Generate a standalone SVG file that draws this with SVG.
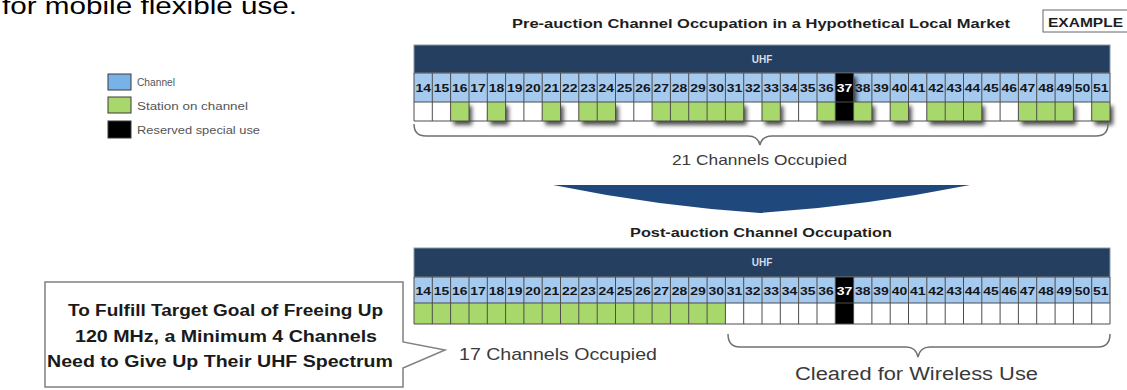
<svg xmlns="http://www.w3.org/2000/svg" width="1127" height="390" viewBox="0 0 1127 390">
  <style>
    .sans { font-family: "Liberation Sans", Arial, sans-serif; }
    .navy { fill: #243f60; stroke: #8a98a8; stroke-width: 1; }
    .numrow { fill: #a6caee; }
    .occ { fill: #ffffff; }
    .on { fill: #a8d86c; }
    .rsv { fill: #000000; }
    .grid { fill: none; stroke: #4d4d4d; stroke-width: 1; }
    .num { font-family: "Liberation Sans", Arial, sans-serif; font-weight: bold; font-size: 11.5px; fill: #14161c; text-anchor: middle; }
    .num.w { fill: #ffffff; }
    .uhf { font-family: "Liberation Sans", Arial, sans-serif; font-weight: bold; font-size: 10px; fill: #d7dde6; text-anchor: middle; }
    .title { font-family: "Liberation Sans", Arial, sans-serif; font-weight: bold; font-size: 12.5px; fill: #1e1e1e; }
    .legtxt { font-family: "Liberation Sans", Arial, sans-serif; font-size: 10px; fill: #555555; }
    .count { font-family: "Liberation Sans", Arial, sans-serif; fill: #3a3a3a; }
    .brace { fill: none; stroke: #707070; stroke-width: 1.5; }
    .callout { fill: #ffffff; stroke: #808080; stroke-width: 1.5; }
    .calltxt { font-family: "Liberation Sans", Arial, sans-serif; font-weight: bold; font-size: 16px; fill: #1a1a1a; text-anchor: middle; }
  </style>
  <defs>
    <filter id="cellShadow" x="-30%" y="-30%" width="180%" height="190%">
      <feDropShadow dx="3" dy="4" stdDeviation="2" flood-color="#000000" flood-opacity="0.7"/>
    </filter>
  </defs>

  <rect x="0" y="0" width="1127" height="390" fill="#ffffff"/>

  <!-- slide body text, running off the top edge -->
  <text class="sans" x="2" y="13.5" font-size="23" fill="#000000" textLength="295" lengthAdjust="spacingAndGlyphs">for mobile flexible use.</text>

  <!-- legend -->
  <g id="legend">
    <rect x="108" y="74" width="23" height="16" fill="#78b2e6" stroke="#3a3a3a" stroke-width="1"/>
    <text class="legtxt" x="137" y="86" textLength="38" lengthAdjust="spacingAndGlyphs">Channel</text>
    <rect x="108" y="97" width="23" height="16" fill="#a8d86c" stroke="#3a3a3a" stroke-width="1"/>
    <text class="legtxt" x="137" y="110" textLength="111" lengthAdjust="spacingAndGlyphs">Station on channel</text>
    <rect x="108" y="121" width="23" height="17" fill="#000000" stroke="#3a3a3a" stroke-width="1"/>
    <text class="legtxt" x="137" y="134" textLength="123" lengthAdjust="spacingAndGlyphs">Reserved special use</text>
  </g>

  <!-- EXAMPLE tag -->
  <g id="example-tag">
    <rect x="1043" y="10" width="90" height="22" fill="#ffffff" stroke="#666666" stroke-width="1"/>
    <text class="title" x="1048" y="27" font-size="13.5" textLength="75" lengthAdjust="spacingAndGlyphs">EXAMPLE</text>
  </g>

  <!-- pre-auction band -->
  <g id="pre-auction">
    <text class="title" x="512" y="28" textLength="498" lengthAdjust="spacingAndGlyphs">Pre-auction Channel Occupation in a Hypothetical Local Market</text>
    <rect class="navy" x="414" y="45" width="696" height="28"/>
    <text class="uhf" x="762" y="63">UHF</text>
    <rect class="numrow" x="414" y="73" width="696" height="29"/>
    <rect class="occ" x="414" y="102" width="696" height="19"/>
    <g filter="url(#cellShadow)">
      <rect class="on" x="450.6" y="102" width="18.3" height="19"/>
      <rect class="on" x="487.3" y="102" width="18.3" height="19"/>
      <rect class="on" x="542.2" y="102" width="18.3" height="19"/>
      <rect class="on" x="578.8" y="102" width="36.6" height="19"/>
      <rect class="on" x="652.1" y="102" width="91.6" height="19"/>
      <rect class="on" x="762.0" y="102" width="18.3" height="19"/>
      <rect class="on" x="817.0" y="102" width="18.3" height="19"/>
      <rect class="rsv" x="835.3" y="73" width="18.3" height="48"/>
      <rect class="on" x="853.6" y="102" width="18.3" height="19"/>
      <rect class="on" x="890.2" y="102" width="18.3" height="19"/>
      <rect class="on" x="926.8" y="102" width="54.9" height="19"/>
      <rect class="on" x="1018.4" y="102" width="54.9" height="19"/>
      <rect class="on" x="1091.7" y="102" width="18.3" height="19"/>
    </g>
    <path class="grid" d="M414,73H1110M414,102H1110M414,121H1110
      M414,73V121M432.3,73V121M450.6,73V121M469,73V121M487.3,73V121M505.6,73V121M523.9,73V121M542.2,73V121M560.5,73V121M578.8,73V121
      M597.2,73V121M615.5,73V121M633.8,73V121M652.1,73V121M670.4,73V121M688.7,73V121M707.1,73V121M725.4,73V121M743.7,73V121M762,73V121
      M780.3,73V121M798.6,73V121M817,73V121M835.3,73V121M853.6,73V121M871.9,73V121M890.2,73V121M908.5,73V121M926.8,73V121M945.2,73V121
      M963.5,73V121M981.8,73V121M1000.1,73V121M1018.4,73V121M1036.7,73V121M1055.1,73V121M1073.4,73V121M1091.7,73V121M1110,73V121"/>
    <g>
      <text class="num" x="423.2" y="92" textLength="15.5" lengthAdjust="spacingAndGlyphs">14</text>
      <text class="num" x="441.5" y="92" textLength="15.5" lengthAdjust="spacingAndGlyphs">15</text>
      <text class="num" x="459.8" y="92" textLength="15.5" lengthAdjust="spacingAndGlyphs">16</text>
      <text class="num" x="478.1" y="92" textLength="15.5" lengthAdjust="spacingAndGlyphs">17</text>
      <text class="num" x="496.4" y="92" textLength="15.5" lengthAdjust="spacingAndGlyphs">18</text>
      <text class="num" x="514.7" y="92" textLength="15.5" lengthAdjust="spacingAndGlyphs">19</text>
      <text class="num" x="533.1" y="92" textLength="15.5" lengthAdjust="spacingAndGlyphs">20</text>
      <text class="num" x="551.4" y="92" textLength="15.5" lengthAdjust="spacingAndGlyphs">21</text>
      <text class="num" x="569.7" y="92" textLength="15.5" lengthAdjust="spacingAndGlyphs">22</text>
      <text class="num" x="588.0" y="92" textLength="15.5" lengthAdjust="spacingAndGlyphs">23</text>
      <text class="num" x="606.3" y="92" textLength="15.5" lengthAdjust="spacingAndGlyphs">24</text>
      <text class="num" x="624.6" y="92" textLength="15.5" lengthAdjust="spacingAndGlyphs">25</text>
      <text class="num" x="643.0" y="92" textLength="15.5" lengthAdjust="spacingAndGlyphs">26</text>
      <text class="num" x="661.3" y="92" textLength="15.5" lengthAdjust="spacingAndGlyphs">27</text>
      <text class="num" x="679.6" y="92" textLength="15.5" lengthAdjust="spacingAndGlyphs">28</text>
      <text class="num" x="697.9" y="92" textLength="15.5" lengthAdjust="spacingAndGlyphs">29</text>
      <text class="num" x="716.2" y="92" textLength="15.5" lengthAdjust="spacingAndGlyphs">30</text>
      <text class="num" x="734.5" y="92" textLength="15.5" lengthAdjust="spacingAndGlyphs">31</text>
      <text class="num" x="752.8" y="92" textLength="15.5" lengthAdjust="spacingAndGlyphs">32</text>
      <text class="num" x="771.2" y="92" textLength="15.5" lengthAdjust="spacingAndGlyphs">33</text>
      <text class="num" x="789.5" y="92" textLength="15.5" lengthAdjust="spacingAndGlyphs">34</text>
      <text class="num" x="807.8" y="92" textLength="15.5" lengthAdjust="spacingAndGlyphs">35</text>
      <text class="num" x="826.1" y="92" textLength="15.5" lengthAdjust="spacingAndGlyphs">36</text>
      <text class="num w" x="844.4" y="92" textLength="15.5" lengthAdjust="spacingAndGlyphs">37</text>
      <text class="num" x="862.7" y="92" textLength="15.5" lengthAdjust="spacingAndGlyphs">38</text>
      <text class="num" x="881.1" y="92" textLength="15.5" lengthAdjust="spacingAndGlyphs">39</text>
      <text class="num" x="899.4" y="92" textLength="15.5" lengthAdjust="spacingAndGlyphs">40</text>
      <text class="num" x="917.7" y="92" textLength="15.5" lengthAdjust="spacingAndGlyphs">41</text>
      <text class="num" x="936.0" y="92" textLength="15.5" lengthAdjust="spacingAndGlyphs">42</text>
      <text class="num" x="954.3" y="92" textLength="15.5" lengthAdjust="spacingAndGlyphs">43</text>
      <text class="num" x="972.6" y="92" textLength="15.5" lengthAdjust="spacingAndGlyphs">44</text>
      <text class="num" x="990.9" y="92" textLength="15.5" lengthAdjust="spacingAndGlyphs">45</text>
      <text class="num" x="1009.3" y="92" textLength="15.5" lengthAdjust="spacingAndGlyphs">46</text>
      <text class="num" x="1027.6" y="92" textLength="15.5" lengthAdjust="spacingAndGlyphs">47</text>
      <text class="num" x="1045.9" y="92" textLength="15.5" lengthAdjust="spacingAndGlyphs">48</text>
      <text class="num" x="1064.2" y="92" textLength="15.5" lengthAdjust="spacingAndGlyphs">49</text>
      <text class="num" x="1082.5" y="92" textLength="15.5" lengthAdjust="spacingAndGlyphs">50</text>
      <text class="num" x="1100.8" y="92" textLength="15.5" lengthAdjust="spacingAndGlyphs">51</text>
    </g>
    <text class="count" x="672" y="165" font-size="15" textLength="175" lengthAdjust="spacingAndGlyphs">21 Channels Occupied</text>
  </g>

  <!-- post-auction band -->
  <g id="post-auction">
    <text class="title" x="630" y="237" textLength="262" lengthAdjust="spacingAndGlyphs">Post-auction Channel Occupation</text>
    <rect class="navy" x="414" y="248" width="696" height="29"/>
    <text class="uhf" x="762" y="266">UHF</text>
    <rect class="numrow" x="414" y="277" width="696" height="26"/>
    <rect class="occ" x="414" y="303" width="696" height="21"/>
    <rect class="on" x="414" y="303" width="311.4" height="21"/>
    <rect class="rsv" x="835.3" y="277" width="18.3" height="47"/>
    <path class="grid" d="M414,277H1110M414,303H1110M414,324H1110
      M414,277V324M432.3,277V324M450.6,277V324M469,277V324M487.3,277V324M505.6,277V324M523.9,277V324M542.2,277V324M560.5,277V324M578.8,277V324
      M597.2,277V324M615.5,277V324M633.8,277V324M652.1,277V324M670.4,277V324M688.7,277V324M707.1,277V324M725.4,277V324M743.7,277V324M762,277V324
      M780.3,277V324M798.6,277V324M817,277V324M835.3,277V324M853.6,277V324M871.9,277V324M890.2,277V324M908.5,277V324M926.8,277V324M945.2,277V324
      M963.5,277V324M981.8,277V324M1000.1,277V324M1018.4,277V324M1036.7,277V324M1055.1,277V324M1073.4,277V324M1091.7,277V324M1110,277V324"/>
    <g>
      <text class="num" x="423.2" y="294.5" textLength="15.5" lengthAdjust="spacingAndGlyphs">14</text>
      <text class="num" x="441.5" y="294.5" textLength="15.5" lengthAdjust="spacingAndGlyphs">15</text>
      <text class="num" x="459.8" y="294.5" textLength="15.5" lengthAdjust="spacingAndGlyphs">16</text>
      <text class="num" x="478.1" y="294.5" textLength="15.5" lengthAdjust="spacingAndGlyphs">17</text>
      <text class="num" x="496.4" y="294.5" textLength="15.5" lengthAdjust="spacingAndGlyphs">18</text>
      <text class="num" x="514.7" y="294.5" textLength="15.5" lengthAdjust="spacingAndGlyphs">19</text>
      <text class="num" x="533.1" y="294.5" textLength="15.5" lengthAdjust="spacingAndGlyphs">20</text>
      <text class="num" x="551.4" y="294.5" textLength="15.5" lengthAdjust="spacingAndGlyphs">21</text>
      <text class="num" x="569.7" y="294.5" textLength="15.5" lengthAdjust="spacingAndGlyphs">22</text>
      <text class="num" x="588.0" y="294.5" textLength="15.5" lengthAdjust="spacingAndGlyphs">23</text>
      <text class="num" x="606.3" y="294.5" textLength="15.5" lengthAdjust="spacingAndGlyphs">24</text>
      <text class="num" x="624.6" y="294.5" textLength="15.5" lengthAdjust="spacingAndGlyphs">25</text>
      <text class="num" x="643.0" y="294.5" textLength="15.5" lengthAdjust="spacingAndGlyphs">26</text>
      <text class="num" x="661.3" y="294.5" textLength="15.5" lengthAdjust="spacingAndGlyphs">27</text>
      <text class="num" x="679.6" y="294.5" textLength="15.5" lengthAdjust="spacingAndGlyphs">28</text>
      <text class="num" x="697.9" y="294.5" textLength="15.5" lengthAdjust="spacingAndGlyphs">29</text>
      <text class="num" x="716.2" y="294.5" textLength="15.5" lengthAdjust="spacingAndGlyphs">30</text>
      <text class="num" x="734.5" y="294.5" textLength="15.5" lengthAdjust="spacingAndGlyphs">31</text>
      <text class="num" x="752.8" y="294.5" textLength="15.5" lengthAdjust="spacingAndGlyphs">32</text>
      <text class="num" x="771.2" y="294.5" textLength="15.5" lengthAdjust="spacingAndGlyphs">33</text>
      <text class="num" x="789.5" y="294.5" textLength="15.5" lengthAdjust="spacingAndGlyphs">34</text>
      <text class="num" x="807.8" y="294.5" textLength="15.5" lengthAdjust="spacingAndGlyphs">35</text>
      <text class="num" x="826.1" y="294.5" textLength="15.5" lengthAdjust="spacingAndGlyphs">36</text>
      <text class="num w" x="844.4" y="294.5" textLength="15.5" lengthAdjust="spacingAndGlyphs">37</text>
      <text class="num" x="862.7" y="294.5" textLength="15.5" lengthAdjust="spacingAndGlyphs">38</text>
      <text class="num" x="881.1" y="294.5" textLength="15.5" lengthAdjust="spacingAndGlyphs">39</text>
      <text class="num" x="899.4" y="294.5" textLength="15.5" lengthAdjust="spacingAndGlyphs">40</text>
      <text class="num" x="917.7" y="294.5" textLength="15.5" lengthAdjust="spacingAndGlyphs">41</text>
      <text class="num" x="936.0" y="294.5" textLength="15.5" lengthAdjust="spacingAndGlyphs">42</text>
      <text class="num" x="954.3" y="294.5" textLength="15.5" lengthAdjust="spacingAndGlyphs">43</text>
      <text class="num" x="972.6" y="294.5" textLength="15.5" lengthAdjust="spacingAndGlyphs">44</text>
      <text class="num" x="990.9" y="294.5" textLength="15.5" lengthAdjust="spacingAndGlyphs">45</text>
      <text class="num" x="1009.3" y="294.5" textLength="15.5" lengthAdjust="spacingAndGlyphs">46</text>
      <text class="num" x="1027.6" y="294.5" textLength="15.5" lengthAdjust="spacingAndGlyphs">47</text>
      <text class="num" x="1045.9" y="294.5" textLength="15.5" lengthAdjust="spacingAndGlyphs">48</text>
      <text class="num" x="1064.2" y="294.5" textLength="15.5" lengthAdjust="spacingAndGlyphs">49</text>
      <text class="num" x="1082.5" y="294.5" textLength="15.5" lengthAdjust="spacingAndGlyphs">50</text>
      <text class="num" x="1100.8" y="294.5" textLength="15.5" lengthAdjust="spacingAndGlyphs">51</text>
    </g>
    <text class="count" x="459" y="360" font-size="17" textLength="198" lengthAdjust="spacingAndGlyphs">17 Channels Occupied</text>
    <text class="count" x="795" y="380" font-size="18" fill="#2e2e2e" textLength="243" lengthAdjust="spacingAndGlyphs">Cleared for Wireless Use</text>
  </g>

  <!-- callout with pointer -->
  <g id="callout">
    <path class="callout" d="M45,282H403V342L445,350L403,368V387H45Z"/>
    <text class="calltxt" x="225.5" y="316" textLength="315" lengthAdjust="spacingAndGlyphs">To Fulfill Target Goal of Freeing Up</text>
    <text class="calltxt" x="226" y="342" textLength="302" lengthAdjust="spacingAndGlyphs">120 MHz, a Minimum 4 Channels</text>
    <text class="calltxt" x="220" y="367" textLength="346" lengthAdjust="spacingAndGlyphs">Need to Give Up Their UHF Spectrum</text>
  </g>

  <!-- connectors: braces and the transition arrow -->
  <g id="connectors">
    <path class="brace" d="M414,124Q414,136 426,136L748,136Q758,136 760,145Q762,136 772,136L1096,136Q1108,136 1108,124"/>
    <path class="brace" d="M728,334Q728,347 740,347L906,347Q916,347 918,357Q920,347 930,347L1098,347Q1110,347 1110,334"/>
    <path d="M553,185L970,185Q865,206 760,213Q656,206 553,185Z" fill="#1f497d"/>
  </g>
</svg>
